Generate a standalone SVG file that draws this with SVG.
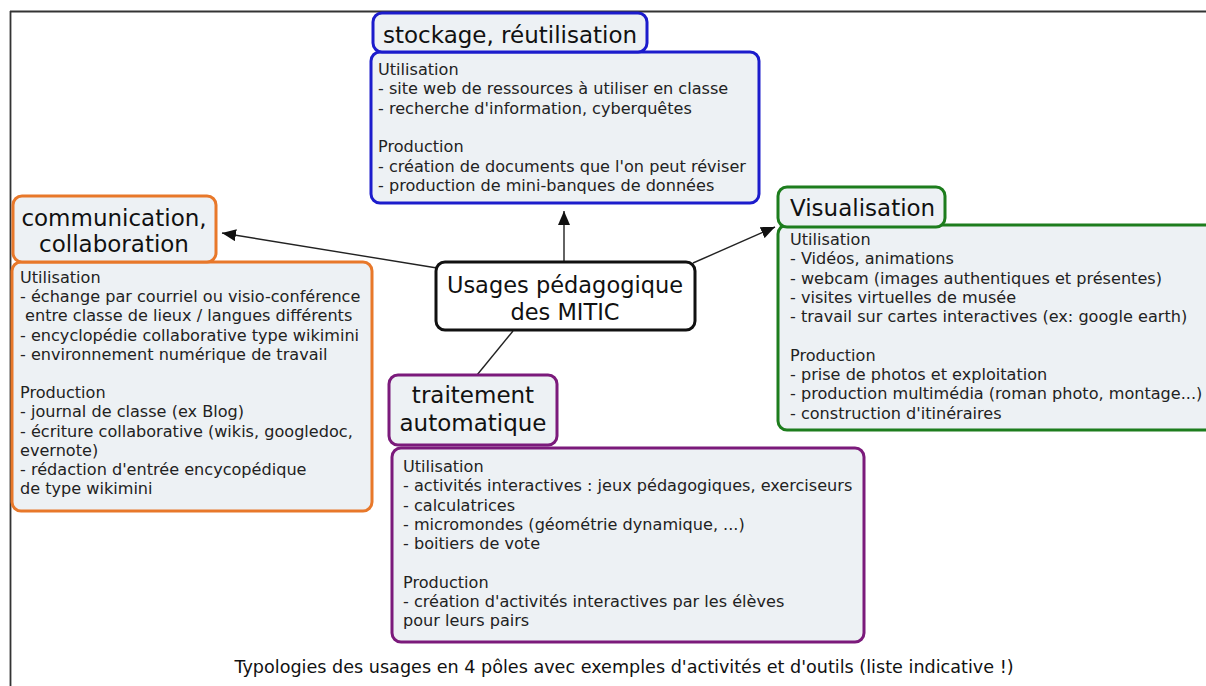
<svg xmlns="http://www.w3.org/2000/svg" width="1206" height="686" viewBox="0 0 1206 686">
<defs>
<marker id="arr" markerUnits="userSpaceOnUse" markerWidth="14" markerHeight="12" viewBox="0 0 14 12" refX="14" refY="6" orient="auto">
<path d="M0,0 L14,6 L0,12 z" fill="#111"/>
</marker>
</defs>
<style>
.body{fill:#edf1f4;stroke-width:3}
.blue{stroke:#1c1ccc}
.orange{stroke:#e8782a}
.green{stroke:#1d7d1d}
.purple{stroke:#7b1a7b}
.t{font-family:"DejaVu Sans",Verdana,sans-serif;font-size:16.1px;fill:#222}
.title{font-family:"DejaVu Sans",Verdana,sans-serif;font-size:23px;fill:#111}
.ctitle{font-family:"DejaVu Sans",Verdana,sans-serif;font-size:22.5px;fill:#111}
.cap{font-family:"DejaVu Sans",sans-serif;font-size:17.6px;fill:#111}
.conn{stroke:#222;stroke-width:1.4;fill:none}
</style>
<rect width="1206" height="686" fill="#fff"/>
<g id="frame">
<line x1="10" y1="11.5" x2="1206" y2="11.5" stroke="#333" stroke-width="1.8"/>
<line x1="10.5" y1="11" x2="10.5" y2="686" stroke="#333" stroke-width="1.8"/>
</g>
<g id="connectors">
<line class="conn" x1="437" y1="268" x2="222" y2="233" marker-end="url(#arr)"/>
<line class="conn" x1="564" y1="262" x2="564" y2="211" marker-end="url(#arr)"/>
<line class="conn" x1="693" y1="263" x2="775" y2="227" marker-end="url(#arr)"/>
<line class="conn" x1="513" y1="331" x2="477" y2="375"/>
</g>
<g id="node-stockage">
<rect class="body blue" x="371" y="52" width="388" height="151" rx="9"/>
<rect class="body blue" x="373" y="13" width="274" height="39" rx="9"/>
<text class="title" x="383" y="43">stockage, réutilisation</text>
<text class="t" x="378" y="75"><tspan x="378">Utilisation</tspan><tspan x="378" dy="19.3">- site web de ressources à utiliser en classe</tspan><tspan x="378" dy="19.3">- recherche d'information, cyberquêtes</tspan><tspan x="378" dy="38.6">Production</tspan><tspan x="378" dy="19.3">- création de documents que l'on peut réviser</tspan><tspan x="378" dy="19.3">- production de mini-banques de données</tspan></text>
</g>
<g id="node-communication">
<rect class="body orange" x="12" y="262" width="360" height="249" rx="9"/>
<rect class="body orange" x="13" y="196" width="203" height="66" rx="9"/>
<text class="title" x="114" y="226" text-anchor="middle"><tspan x="114">communication,</tspan><tspan x="114" dy="26">collaboration</tspan></text>
<text class="t" x="20" y="283"><tspan x="20">Utilisation</tspan><tspan x="20" dy="19.2">- échange par courriel ou visio-conférence</tspan><tspan x="20" dy="19.2"> entre classe de lieux / langues différents</tspan><tspan x="20" dy="19.2">- encyclopédie collaborative type wikimini</tspan><tspan x="20" dy="19.2">- environnement numérique de travail</tspan><tspan x="20" dy="38.4">Production</tspan><tspan x="20" dy="19.2">- journal de classe (ex Blog)</tspan><tspan x="20" dy="19.2">- écriture collaborative (wikis, googledoc,</tspan><tspan x="20" dy="19.2">evernote)</tspan><tspan x="20" dy="19.2">- rédaction d'entrée encycopédique</tspan><tspan x="20" dy="19.2">de type wikimini</tspan></text>
</g>
<g id="node-visualisation">
<rect class="body green" x="778" y="225" width="445" height="205" rx="9"/>
<rect class="body green" x="778" y="187" width="167" height="40" rx="9"/>
<text class="title" x="790" y="216">Visualisation</text>
<text class="t" x="790" y="245"><tspan x="790">Utilisation</tspan><tspan x="790" dy="19.3">- Vidéos, animations</tspan><tspan x="790" dy="19.3">- webcam (images authentiques et présentes)</tspan><tspan x="790" dy="19.3">- visites virtuelles de musée</tspan><tspan x="790" dy="19.3">- travail sur cartes interactives (ex: google earth)</tspan><tspan x="790" dy="38.6">Production</tspan><tspan x="790" dy="19.3">- prise de photos et exploitation</tspan><tspan x="790" dy="19.3">- production multimédia (roman photo, montage...)</tspan><tspan x="790" dy="19.3">- construction d'itinéraires</tspan></text>
</g>
<g id="node-traitement">
<rect class="body purple" x="392" y="448" width="472" height="194" rx="9"/>
<rect class="body purple" x="389" y="375" width="168" height="70" rx="9"/>
<text class="title" x="473" y="403" text-anchor="middle"><tspan x="473">traitement</tspan><tspan x="473" dy="28">automatique</tspan></text>
<text class="t" x="403" y="472"><tspan x="403">Utilisation</tspan><tspan x="403" dy="19.3">- activités interactives : jeux pédagogiques, exerciseurs</tspan><tspan x="403" dy="19.3">- calculatrices</tspan><tspan x="403" dy="19.3">- micromondes (géométrie dynamique, ...)</tspan><tspan x="403" dy="19.3">- boitiers de vote</tspan><tspan x="403" dy="38.6">Production</tspan><tspan x="403" dy="19.3">- création d'activités interactives par les élèves</tspan><tspan x="403" dy="19.3">pour leurs pairs</tspan></text>
</g>
<g id="node-center">
<rect x="436" y="262" width="259" height="68" rx="9" fill="#fff" stroke="#111" stroke-width="3"/>
<text class="ctitle" x="565" y="293" text-anchor="middle"><tspan x="565">Usages pédagogique</tspan><tspan x="565" dy="27">des MITIC</tspan></text>
</g>
<g id="caption">
<text class="cap" x="624" y="673" text-anchor="middle">Typologies des usages en 4 pôles avec exemples d'activités et d'outils (liste indicative !)</text>
</g>
</svg>
